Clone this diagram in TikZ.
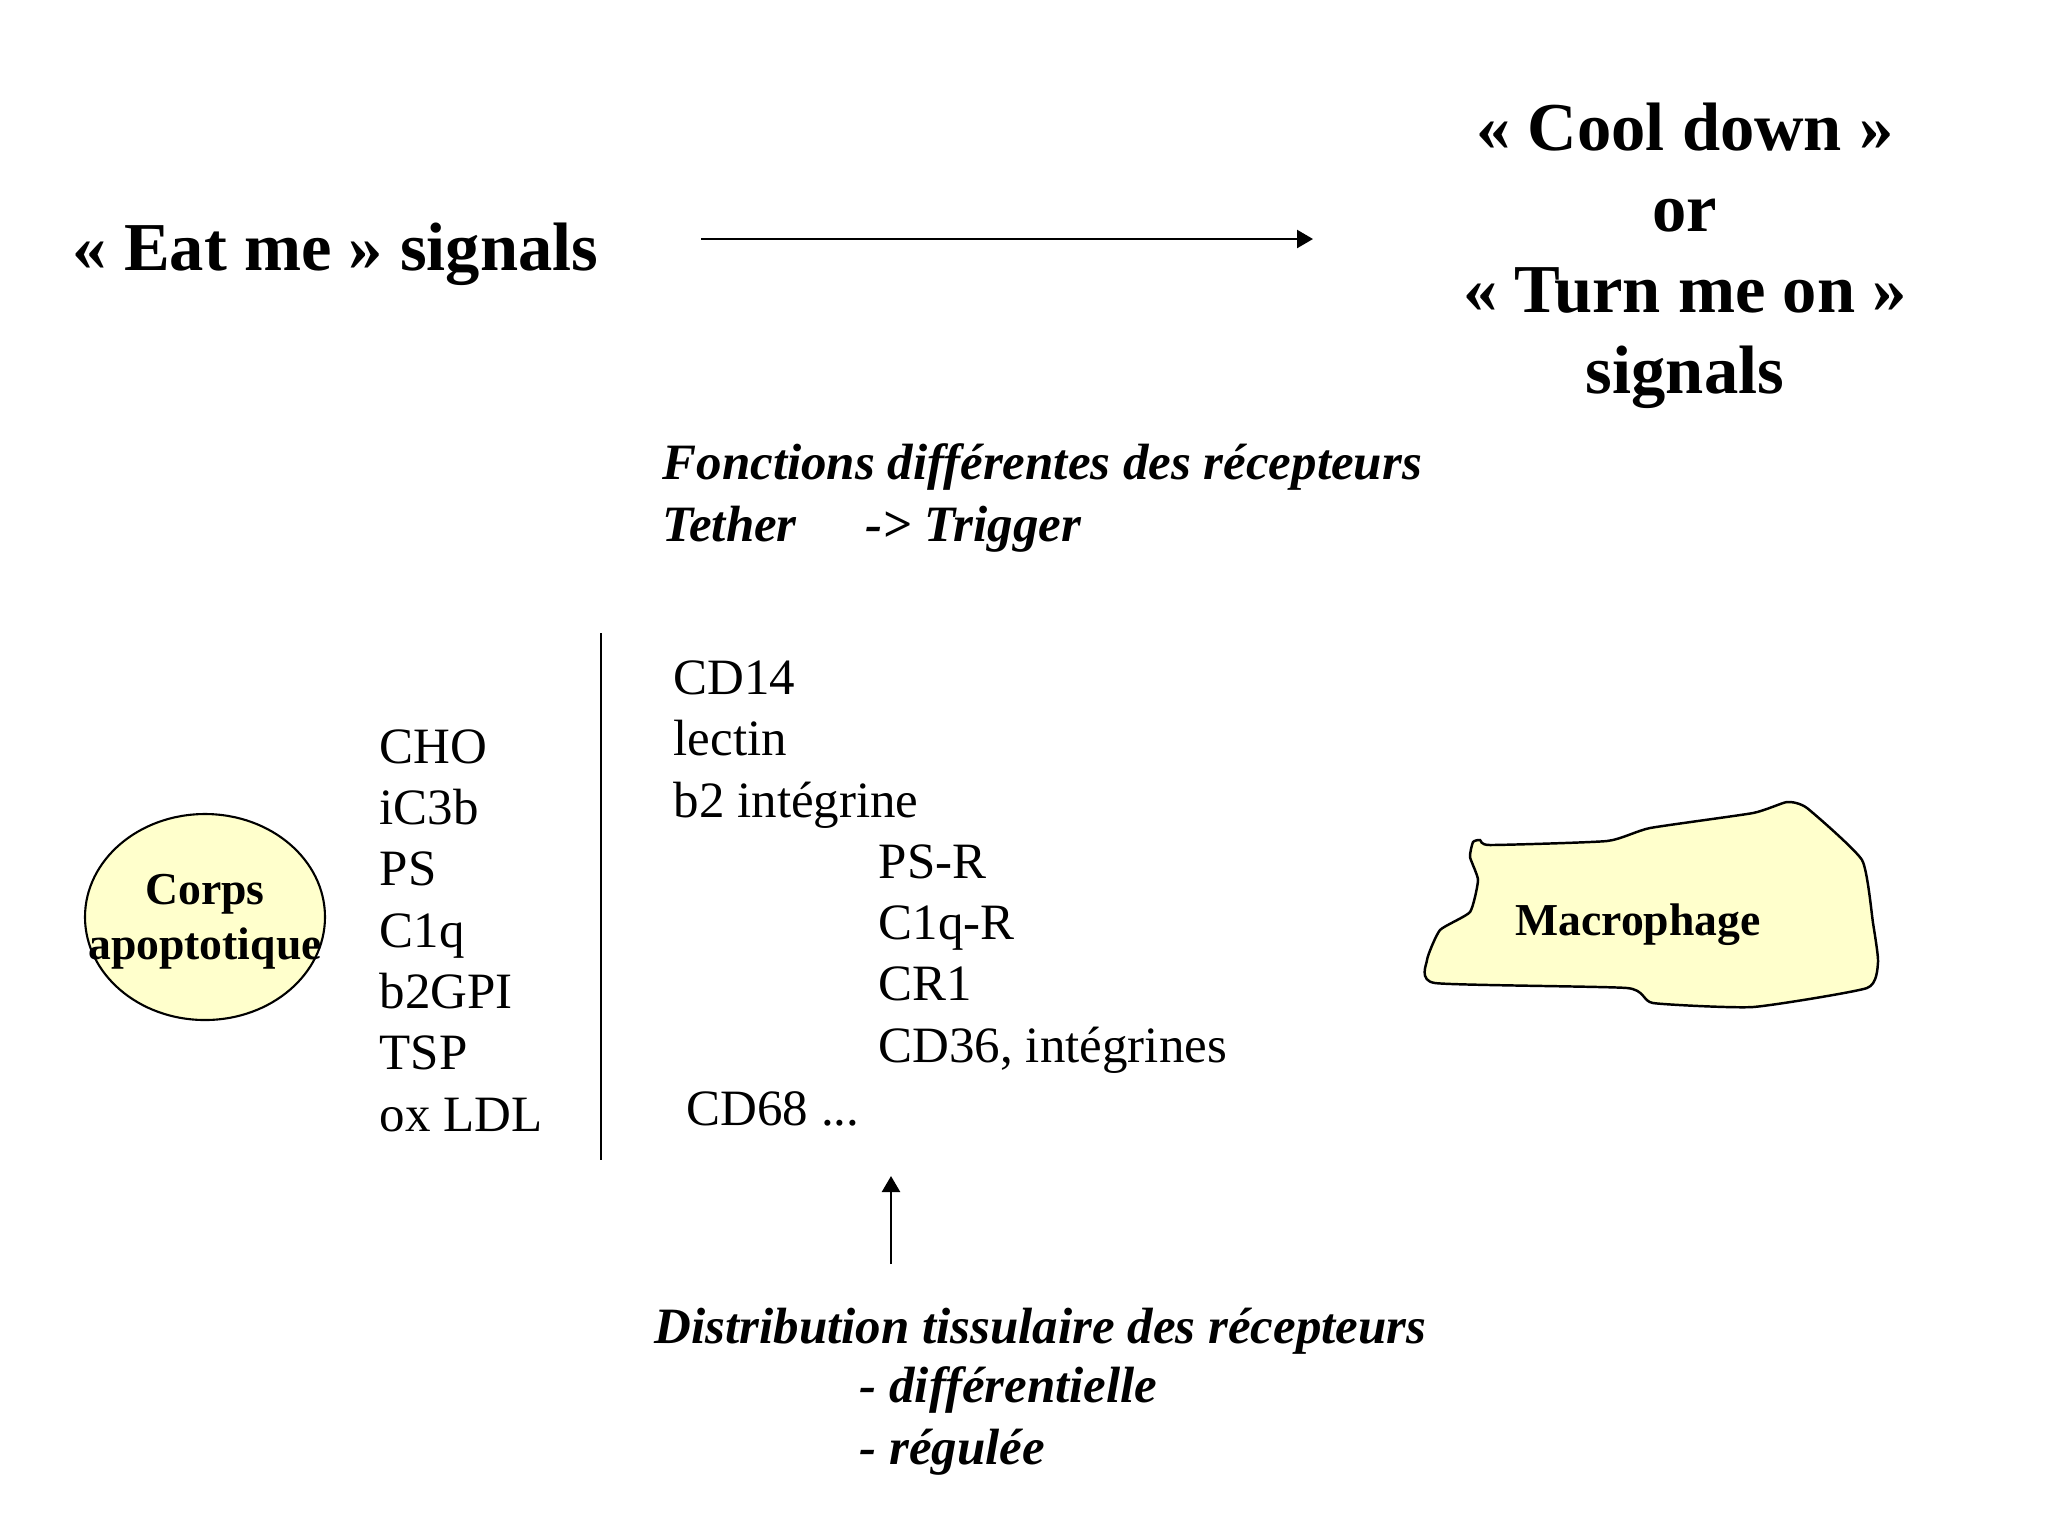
\documentclass[tikz,border=0pt]{standalone}
\usepackage{fontspec}
\setmainfont{Liberation Serif}
\usetikzlibrary{arrows.meta,positioning,shapes.geometric}
\definecolor{cellyellow}{RGB}{255,255,204}

\begin{document}
\begin{tikzpicture}[x=0.1mm,y=-0.1mm,
  signal/.style={font=\fontsize{19.5}{23}\selectfont\bfseries,inner sep=0pt,align=center},
  listtext/.style={font=\fontsize{14.5}{17.45}\selectfont,inner sep=0pt,align=left,anchor=base west},
  notetext/.style={font=\fontsize{14.5}{17.45}\selectfont\bfseries\itshape,inner sep=0pt,align=left,anchor=base west},
  celltext/.style={font=\fontsize{13}{15.6}\selectfont\bfseries,inner sep=0pt,align=center},
  sigarrow/.style={-{Triangle[length=1.6mm,width=1.8mm]},line width=0.7pt}]
  \useasboundingbox[fill=white] (0,0) rectangle (2048,1536);
  %% Signals (base = last line)
  \node[signal,anchor=base west] (eatme) at (72,270) {« Eat me » signals};
  \node[signal,anchor=base] (cooldown) at (1685,393)
        {« Cool down »\\or\\« Turn me on »\\signals};
  \coordinate (eatend) at (701,239);
  \coordinate (coolend) at (1313,239);
  \draw[sigarrow] (eatend) -- (coolend);
  %% Receptor functions
  \node[notetext] (fonctions) at (662,541)
        {Fonctions différentes des récepteurs\\\makebox[20.3mm][l]{Tether}-> Trigger};
  %% Ligands
  \node[listtext] (ligands) at (379,1131)
        {CHO\\iC3b\\PS\\C1q\\b2GPI\\TSP\\ox LDL};
  \coordinate (septop) at (601,633);
  \coordinate (sepbot) at (601,1160);
  \draw[line width=0.7pt] (septop) -- (sepbot);
  %% Receptors
  \node[listtext] (tether) at (673,817) {CD14\\lectin\\b2 intégrine};
  \node[listtext] (trigger) at (878,1062) {PS-R\\C1q-R\\CR1\\CD36, intégrines};
  \node[listtext] (cdsixtyeight) at (686,1125) {CD68 ...};
  %% Cells
  \node[draw,fill=cellyellow,ellipse,line width=0.6pt,inner sep=0pt,
        minimum width=24mm,minimum height=20.6mm] (corps) at (205,917) {};
  \node[celltext] (corpstext) at (205,922) {Corps\\apoptotique};
  \draw[fill=cellyellow,line width=0.7pt] plot[smooth cycle,tension=0.3] coordinates {
        (1435,983) (1427,960) (1440,930) (1470,912) (1478,880) (1470,857)
        (1473,842) (1480,840) (1490,845) (1607,841) (1650,828) (1753,813)
        (1787,802) (1807,808) (1862,860) (1873,923) (1878,962) (1867,988)
        (1753,1007) (1653,1003) (1627,988)};
  \node[celltext] (macrophage) at (1638,925) {Macrophage};
  %% Tissue distribution
  \coordinate (distfrom) at (891,1264);
  \coordinate (distto) at (891,1176);
  \draw[sigarrow] (distfrom) -- (distto);
  \node[notetext] (distribution) at (654,1343) {Distribution tissulaire des récepteurs};
  \node[notetext] (regulee) at (859,1464) {- différentielle\\- régulée};
\end{tikzpicture}
\end{document}
